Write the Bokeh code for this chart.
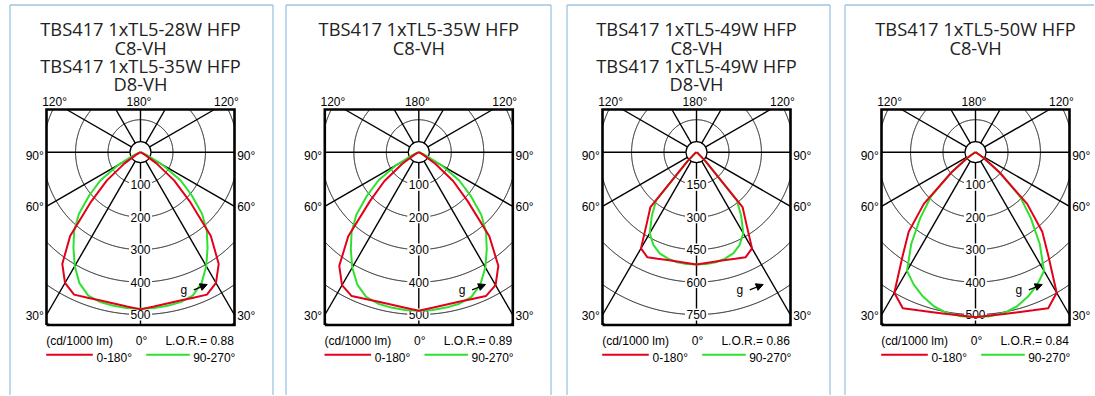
import numpy as np
from bokeh.plotting import figure
from bokeh.layouts import row
from bokeh.models import Range1d, Arrow, NormalHead
from bokeh.embed import file_html
from bokeh.resources import INLINE
from bokeh.core.properties import value

# ---------------- data ----------------
gamma = [0, 5, 10, 15, 20, 25, 30, 35, 40, 45, 50, 55, 60, 65, 70, 75, 80, 85, 90]

titles = [
    ["TBS417 1xTL5-28W HFP", "C8-VH", "TBS417 1xTL5-35W HFP", "D8-VH"],
    ["TBS417 1xTL5-35W HFP", "C8-VH"],
    ["TBS417 1xTL5-49W HFP", "C8-VH", "TBS417 1xTL5-49W HFP", "D8-VH"],
    ["TBS417 1xTL5-50W HFP", "C8-VH"],
]
ring_steps = [100, 100, 150, 100]
lor_values = ["0.88", "0.89", "0.86", "0.84"]

red_28 = [484, 477, 473, 473, 477, 484, 465, 420, 337, 215, 135, 60, 15, 3, 0, 0, 0, 0, 0]
green_28 = [482, 482, 480, 478, 470, 445, 405, 360, 318, 268, 205, 150, 80, 25, 5, 0, 0, 0, 0]
red_35 = [488, 481, 477, 477, 481, 489, 473, 427, 338, 212, 138, 62, 15, 3, 0, 0, 0, 0, 0]
green_35 = [488, 488, 486, 483, 474, 449, 410, 365, 322, 272, 208, 152, 82, 25, 5, 0, 0, 0, 0]
red_49 = [519, 514, 513, 516, 524, 536, 513, 400, 331, 60, 12, 3, 0, 0, 0, 0, 0, 0, 0]
green_49 = [519, 518, 516, 509, 497, 472, 432, 360, 290, 55, 10, 0, 0, 0, 0, 0, 0, 0, 0]
red_50 = [508, 505, 506, 510, 518, 530, 500, 392, 320, 225, 95, 30, 5, 0, 0, 0, 0, 0, 0]
green_50 = [508, 507, 503, 492, 473, 450, 422, 345, 265, 195, 100, 30, 5, 0, 0, 0, 0, 0, 0]

red_series = [red_28, red_35, red_49, red_50]
green_series = [green_28, green_35, green_49, green_50]

legend_labels = ["0-180°", "90-270°"]
unit_label = "(cd/1000 lm)"

# ---------------- layout (page pixels) ----------------
RED = "#e2001a"
GREEN = "#2fe02f"
CARD = "#9cc6e2"
PX_PER_RING = 32.47
CY = 151.7
FIG_TOP, FIG_BOTTOM = 0, 395
centers_x = [140.0, 418.3, 696.0, 975.0]
fig_bounds = [(0, 278), (278, 558), (558, 836), (836, 1094)]
card_edges = [(9.5, 272.5), (285.5, 550.5), (566.5, 829.5), (844.5, None)]
CARD_TOP = 4.5
BOX_HW, BOX_TOP, BOX_BOT = 94.0, -42.7, 172.8
LAMP_R = 10.5
SMALL = value("Liberation Sans")
TITLE_FONT = value("Open Sans")


def polar_xy(vals):
    g = np.radians(gamma)
    v = np.array(vals, dtype=float)
    xr = v * np.sin(g)
    yr = -v * np.cos(g)
    x = np.concatenate([xr[::-1], -xr[1:]])
    y = np.concatenate([yr[::-1], yr[1:]])
    return x, y


def make_panel(i):
    step = ring_steps[i]
    s = PX_PER_RING / step
    cx = centers_x[i]
    L, R = fig_bounds[i]
    W = R - L

    def P(dx, dy):  # pixel offsets from lamp centre (y down) -> data units
        return dx / s, -dy / s

    p = figure(width=W, height=FIG_BOTTOM - FIG_TOP, output_backend="svg",
               toolbar_location=None,
               x_range=Range1d((L - cx) / s, (R - cx) / s),
               y_range=Range1d((CY - FIG_BOTTOM) / s, (CY - FIG_TOP) / s),
               x_axis_type=None, y_axis_type=None, min_border=0,
               outline_line_color=None, background_fill_color="white",
               border_fill_color="white")

    # card border
    ytop = (CY - CARD_TOP) / s
    ybot = (CY - FIG_BOTTOM - 20) / s
    lx, rx = card_edges[i]
    xs_c = [[(lx - cx) / s, (lx - cx) / s]]
    ys_c = [[ybot, ytop]]
    if rx is not None:
        xs_c.append([(rx - cx) / s, (rx - cx) / s]); ys_c.append([ybot, ytop])
        xs_c.append([(lx - cx) / s, (rx - cx) / s]); ys_c.append([ytop, ytop])
    else:
        xs_c.append([(lx - cx) / s, (R + 10 - cx) / s]); ys_c.append([ytop, ytop])
    p.multi_line(xs_c, ys_c, line_color=CARD, line_width=1.3)

    bx0, bx1 = -BOX_HW / s, BOX_HW / s
    by0, by1 = -BOX_BOT / s, -BOX_TOP / s

    # rings
    rxs, rys = [], []
    th = np.linspace(0, 2 * np.pi, 2401)[:-1]
    for k in range(1, 7):
        Rk = k * step
        x = Rk * np.sin(th)
        y = -Rk * np.cos(th)
        inside = (x >= bx0) & (x <= bx1) & (y >= by0) & (y <= by1)
        if inside.all():
            rxs.append(list(np.append(x, x[0]))); rys.append(list(np.append(y, y[0])))
            continue
        j = int(np.argmin(inside))
        x = np.roll(x, -j); y = np.roll(y, -j); ins = np.roll(inside, -j)
        start = None
        for n in range(len(ins) + 1):
            flag = ins[n] if n < len(ins) else False
            if flag and start is None:
                start = n
            elif not flag and start is not None:
                if n - start > 1:
                    rxs.append(list(x[start:n])); rys.append(list(y[start:n]))
                start = None
    p.multi_line(rxs, rys, line_color="black", line_width=1.0)

    # radial lines every 30 degrees
    lxs, lys = [], []
    for a in range(0, 360, 30):
        ar = np.radians(a)
        dx, dy = np.sin(ar), -np.cos(ar)
        ts = []
        if dx > 1e-9: ts.append(bx1 / dx)
        if dx < -1e-9: ts.append(bx0 / dx)
        if dy > 1e-9: ts.append(by1 / dy)
        if dy < -1e-9: ts.append(by0 / dy)
        t = min(ts)
        lxs.append([0, t * dx]); lys.append([0, t * dy])
    p.multi_line(lxs, lys, line_color="black", line_width=1.4)

    # box
    p.line([bx0, bx1, bx1, bx0, bx0], [by0, by0, by1, by1, by0],
           line_color="black", line_width=2.6, line_join="miter")

    # lamp
    p.circle(x=[0], y=[0], radius=LAMP_R / s, fill_color="white",
             line_color="black", line_width=1.2)

    # ring labels
    lab_y = [-k * step for k in range(1, 6)]
    lab_t = [str(k * step) for k in range(1, 6)]
    p.rect(x=[0] * 5, y=lab_y, width=23, height=12, width_units="screen",
           height_units="screen", fill_color="white", line_color=None)
    p.text(x=[0] * 5, y=lab_y, text=lab_t, text_font=SMALL, text_font_size="12px",
           text_align="center", text_baseline="middle", text_color="black")

    # curves
    gx, gy = polar_xy(green_series[i])
    p.line(gx, gy, line_color=GREEN, line_width=2.0)
    rxc, ryc = polar_xy(red_series[i])
    p.line(rxc, ryc, line_color=RED, line_width=2.0)

    # titles
    base = [-123.4, -105.0, -86.7, -68.4]
    tx, ty = [], []
    for n, _ in enumerate(titles[i]):
        a, b = P(0, base[n]); tx.append(a); ty.append(b)
    p.text(x=tx, y=ty, text=titles[i], text_font=TITLE_FONT, text_font_size="18.3px",
           text_align="center", text_baseline="alphabetic", text_color="#222222")

    # angle labels
    def lbl(txt, dx, dy, align):
        a, b = P(dx, dy)
        p.text(x=[a], y=[b], text=[txt], text_font=SMALL, text_font_size="12px",
               text_align=align, text_baseline="alphabetic", text_color="black")

    lbl("120°", -98.3, -50.7, "left")
    lbl("180°", -1.5, -50.7, "center")
    lbl("120°", 98.3, -50.7, "right")
    for txt, dy in (("90°", 4.0), ("60°", 54.3), ("30°", 163.3)):
        lbl(txt, -96.7, dy, "right")
        lbl(txt, 96.7, dy, "left")
    lbl(unit_label, -94.3, 188.3, "left")
    lbl("0°", 1.0, 188.3, "center")
    lbl("L.O.R.= " + lor_values[i], 93.3, 188.3, "right")

    # legend
    a0, b0 = P(-94.3, 202.6); a1, _ = P(-47.7, 202.6)
    p.line([a0, a1], [b0, b0], line_color=RED, line_width=2.0)
    a0, _ = P(5.7, 202.6); a1, _ = P(49.3, 202.6)
    p.line([a0, a1], [b0, b0], line_color=GREEN, line_width=2.0)
    lbl(legend_labels[0], -44.0, 205.6, "left")
    lbl(legend_labels[1], 52.7, 205.6, "left")

    # g arrow
    lbl("g", 43.3, 137.8, "center")
    xs0, ys0 = P(53.3, 137.6)
    xe, ye = P(66.7, 132.3)
    p.add_layout(Arrow(end=NormalHead(size=7, fill_color="black", line_color="black"),
                       x_start=xs0, y_start=ys0, x_end=xe, y_end=ye,
                       line_color="black", line_width=1.3))
    return p


panels = [make_panel(i) for i in range(4)]
layout = row(*panels, spacing=0)
open("out.html", "w").write(file_html(layout, INLINE))
